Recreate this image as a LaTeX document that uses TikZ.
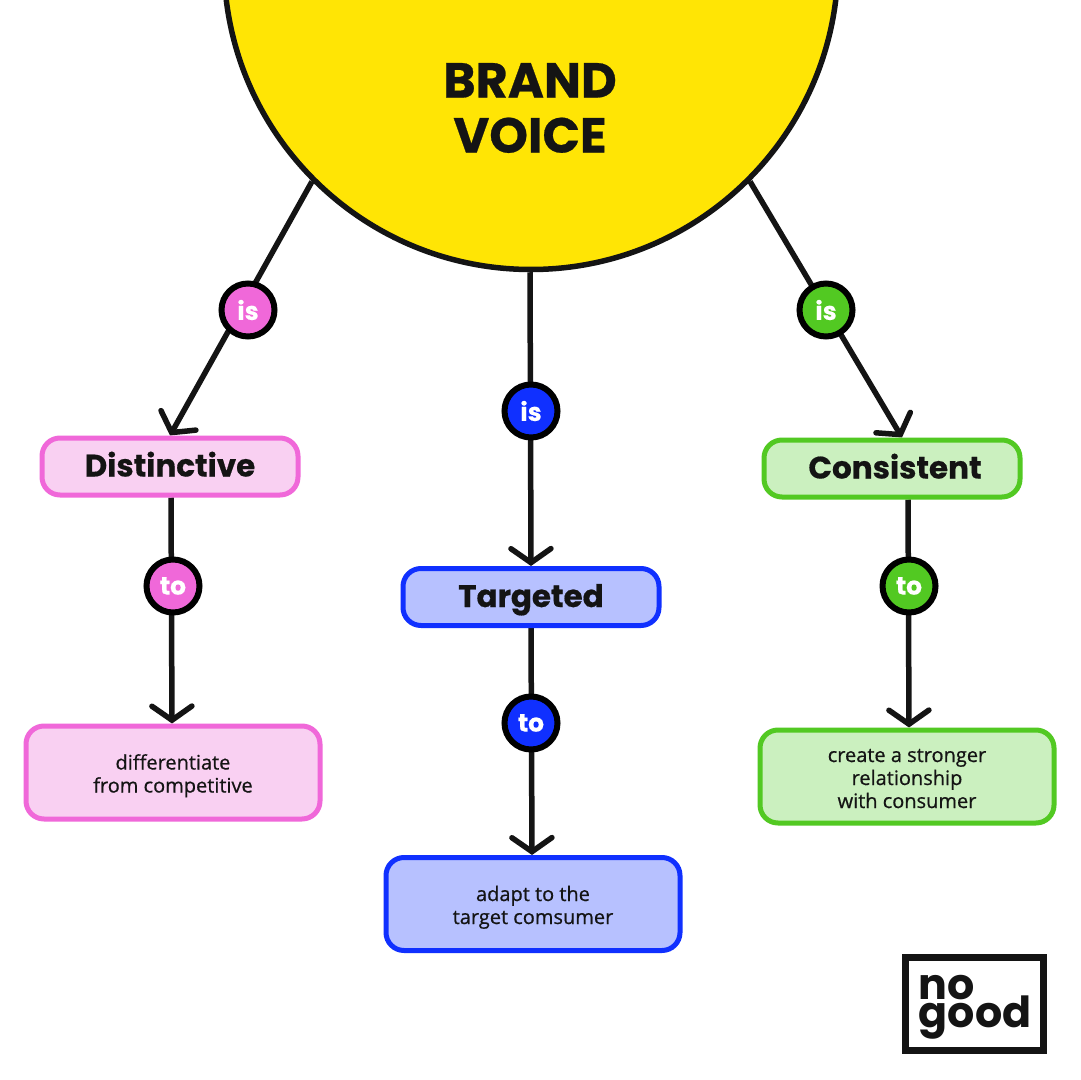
\documentclass[tikz,border=0pt]{standalone}
\usepackage{fontspec}
\setmainfont{Open Sans}[FakeBold=0.6]
\newfontfamily\headfont{Poppins}[FakeBold=0.5]
\newfontfamily\logofont{Poppins}
\usetikzlibrary{arrows.meta,backgrounds}
\definecolor{ink}{HTML}{141414}
\definecolor{sun}{HTML}{FFE505}
\definecolor{pinkm}{HTML}{F068D9}
\definecolor{pinkl}{HTML}{F9D0F2}
\definecolor{bluem}{HTML}{1030FF}
\definecolor{bluel}{HTML}{B7C1FF}
\definecolor{greenm}{HTML}{52C922}
\definecolor{greenl}{HTML}{CBF0BF}
\tikzset{
  x=0.5pt, y=-0.5pt,
  hub/.style={circle, draw=ink, fill=sun, line width=2.75pt, minimum size=307pt, inner sep=0pt},
  hubtext/.style={font=\headfont\bfseries\fontsize{24.6}{27.5}\selectfont, text=ink, align=center},
  badge/.style={circle, draw=black, fill=#1, line width=3pt, minimum size=26.5pt, inner sep=0pt,
    text=white, font=\headfont\bfseries\fontsize{12.5}{14}\selectfont},
  termbox/.style n args={2}{rectangle, rounded corners=9pt, draw=#1, fill=#2, line width=2.5pt,
    minimum width=128pt, minimum height=28.5pt, inner sep=0pt, text=ink, text height=10pt, text depth=0pt,
    font=\headfont\bfseries\fontsize{15.5}{18}\selectfont},
  notebox/.style n args={2}{rectangle, rounded corners=9pt, draw=#1, fill=#2, line width=2.5pt,
    minimum width=147pt, minimum height=46.5pt, inner sep=0pt, text=ink, align=center, text depth=0pt,
    font=\mdseries\fontsize{10}{11.5}\selectfont},
  link/.style={draw=ink, line width=2.75pt},
  linkarrow/.style={link, -{Straight Barb[length=7pt,width=20pt,line cap=round]}},
  logobox/.style={rectangle, draw=ink, line width=3.5pt, minimum width=69pt, minimum height=46.5pt, inner sep=0pt},
  logotext/.style={font=\logofont\bfseries\fontsize{21.4}{21.4}\selectfont, text=ink, anchor=base west, inner sep=0pt}
}
\begin{document}
\begin{tikzpicture}
\path[use as bounding box, clip] (0,0) rectangle (1080,1080);
\begin{scope}[on background layer]
  \fill[white] (0,0) rectangle (1080,1080);
\end{scope}

% Central circle, cut by the top edge of the page
\node[hub] (hub) at (531,-37.5) {};
\node[hubtext] (title) at (530,108) {BRAND\\VOICE};

% Qualities
\node[termbox={pinkm}{pinkl}] (dist) at (170,466.5) {Distinctive};
\node[termbox={bluem}{bluel}] (targ) at (531,597) {Targeted};
\node[termbox={greenm}{greenl}] (cons) at (892,468.5) {\hspace*{3pt}Consistent};

% Outcomes
\node[notebox={pinkm}{pinkl}, text height=20pt] (distnote) at (173,772.5) {differentiate\\from competitive};
\node[notebox={bluem}{bluel}, text height=20pt] (targnote) at (533,904) {adapt to the\\target comsumer};
\node[notebox={greenm}{greenl}, text height=31.5pt] (consnote) at (907,776.5) {create a stronger\\relationship\\with consumer};

% Connector badges
\node[badge=pinkm] (isd) at (248,310) {is};
\node[badge=bluem] (ist) at (531,411) {is};
\node[badge=greenm] (isc) at (826,310) {is};
\node[badge=pinkm] (tod) at (173,586) {to};
\node[badge=bluem] (tot) at (531,723) {to};
\node[badge=greenm] (toc) at (909,586) {to};

\begin{scope}[on background layer]
  \draw[linkarrow] (hub.225.8) -- (dist.north);
  \draw[linkarrow] ([xshift=-0.5pt]hub.south) -- (targ.north);
  \draw[linkarrow] (hub.-45) -- ([xshift=5pt]cons.north);
  \draw[linkarrow] ([xshift=0.5pt]dist.south) -- ([xshift=-0.5pt]distnote.north);
  \draw[linkarrow] (targ.south) -- ([xshift=-0.5pt]targnote.north);
  \draw[linkarrow] ([xshift=8pt]cons.south) -- ([xshift=1pt]consnote.north);
\end{scope}

% Logo
\node[logobox] (logo) at (974.5,1004) {};
\node[logotext] (logono) at (918.5,999) {no};
\node[logotext] (logogood) at (918.5,1027) {good};
\end{tikzpicture}
\end{document}
